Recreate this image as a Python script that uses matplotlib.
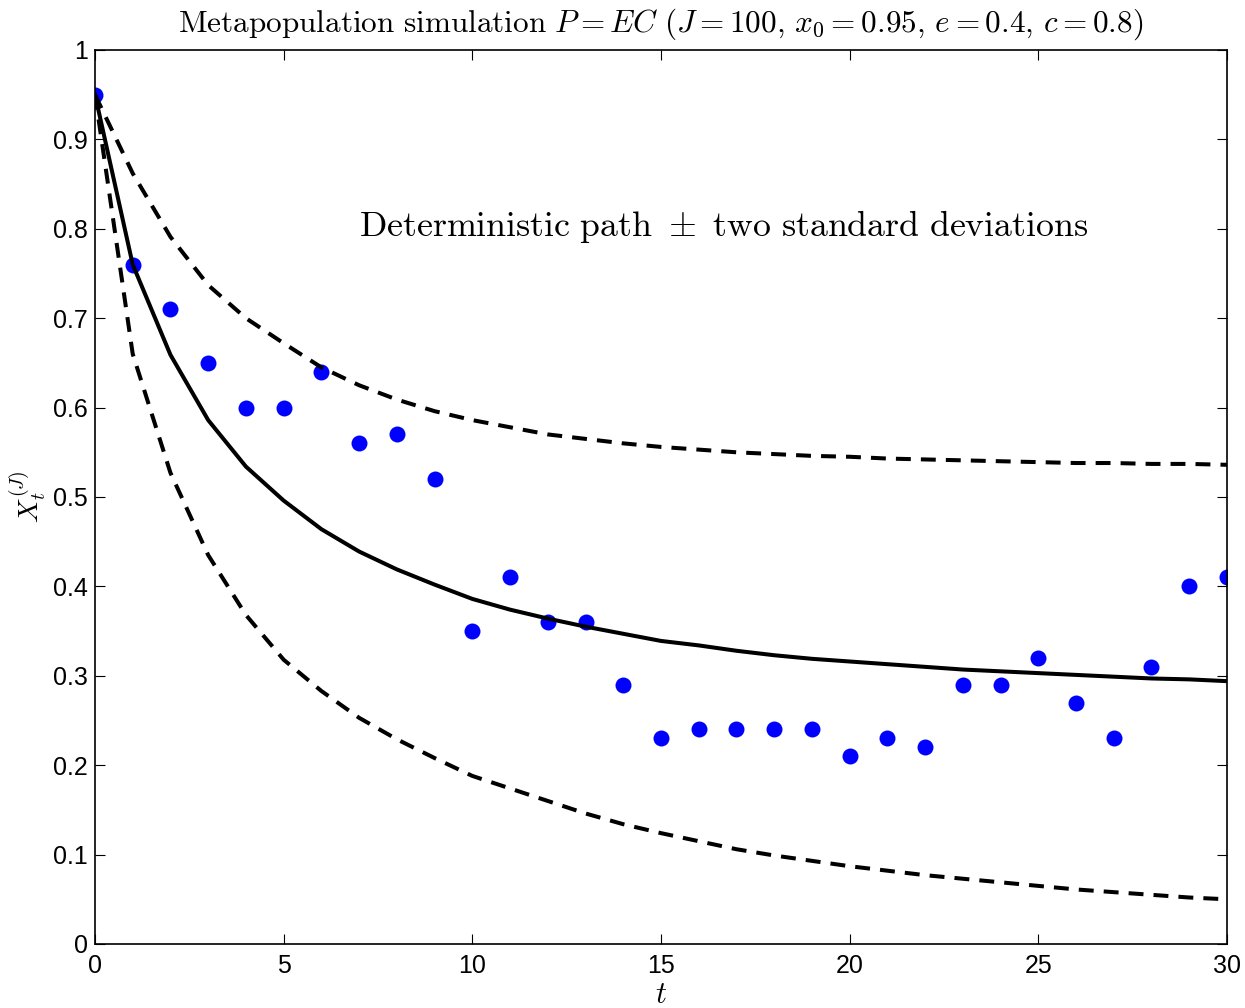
import numpy as np
import matplotlib
matplotlib.use('Agg')
import matplotlib.pyplot as plt

plt.rcParams['mathtext.fontset'] = 'cm'
plt.rcParams['font.family'] = ['Liberation Sans', 'DejaVu Sans']

# simulated metapopulation proportions
t_sim = list(range(31))
x_sim = [0.95, 0.76, 0.71, 0.65, 0.60, 0.60, 0.64, 0.56, 0.57, 0.52,
         0.35, 0.41, 0.36, 0.36, 0.29, 0.23, 0.24, 0.24, 0.24, 0.24,
         0.21, 0.23, 0.22, 0.29, 0.29, 0.32, 0.27, 0.23, 0.31, 0.40, 0.41]

# deterministic path and +/- two standard deviations
det_path = [0.95, 0.76, 0.659, 0.586, 0.534, 0.496, 0.464, 0.439, 0.419, 0.402,
            0.386, 0.374, 0.364, 0.355, 0.347, 0.339, 0.334, 0.328, 0.323, 0.319,
            0.316, 0.313, 0.310, 0.307, 0.305, 0.303, 0.301, 0.299, 0.297, 0.296, 0.294]
upper = [0.95, 0.862, 0.791, 0.737, 0.700, 0.672, 0.645, 0.625, 0.609, 0.596,
         0.586, 0.578, 0.570, 0.565, 0.560, 0.556, 0.553, 0.550, 0.548, 0.546,
         0.545, 0.543, 0.542, 0.541, 0.540, 0.539, 0.538, 0.538, 0.537, 0.537, 0.536]
lower = [0.95, 0.660, 0.527, 0.435, 0.368, 0.318, 0.283, 0.253, 0.229, 0.208,
         0.188, 0.174, 0.160, 0.146, 0.134, 0.124, 0.115, 0.106, 0.099, 0.093,
         0.087, 0.082, 0.077, 0.073, 0.069, 0.065, 0.061, 0.058, 0.055, 0.052, 0.050]

xtick_vals = [0, 5, 10, 15, 20, 25, 30]
ytick_labels = ['0', '0.1', '0.2', '0.3', '0.4', '0.5', '0.6', '0.7', '0.8', '0.9', '1']

fig = plt.figure(figsize=(12.45, 10.08), dpi=100)
ax = fig.add_axes([0.0763, 0.0635, 0.9092, 0.8869])

ax.plot(t_sim, x_sim, 'o', color='#0000ff', markersize=11.5, markeredgewidth=0, zorder=2)
ax.plot(t_sim, det_path, '-', color='k', lw=2.9, zorder=3)
ax.plot(t_sim, upper, '--', color='k', lw=2.9, dashes=(3.7, 2.5), zorder=3)
ax.plot(t_sim, lower, '--', color='k', lw=2.9, dashes=(3.7, 2.5), zorder=3)

ax.set_xlim(0, 30)
ax.set_ylim(0, 1)
ax.tick_params(direction='in', length=7, width=0.8, top=True, right=True)
ax.tick_params(axis='x', pad=7)
ax.tick_params(axis='y', pad=5)
ax.set_xticks(xtick_vals)
ax.set_yticks(np.arange(0, 1.01, 0.1))
ax.set_xticklabels([str(v) for v in xtick_vals])
ax.set_yticklabels(ytick_labels)
for lb in ax.get_xticklabels() + ax.get_yticklabels():
    lb.set_fontsize(18)
for sp in ax.spines.values():
    sp.set_linewidth(1.2)

ax.text(7, 0.803, r'$\mathrm{Deterministic\ path}\ \pm\ \mathrm{two\ standard\ deviations}$',
        fontsize=25.8, va='center', ha='left')

ax.set_title(r'$\mathrm{Metapopulation\ simulation}\ P=EC\ (J=100,\, x_0=0.95,\, e=0.4,\, c=0.8)$',
             fontsize=22.5, pad=13)
ax.set_xlabel(r'$t$', fontsize=22)
ax.xaxis.set_label_coords(0.5, -0.040)
ax.set_ylabel(r'$X_t^{(J)}$', fontsize=20, labelpad=4)

fig.savefig('out.png', dpi=100)
